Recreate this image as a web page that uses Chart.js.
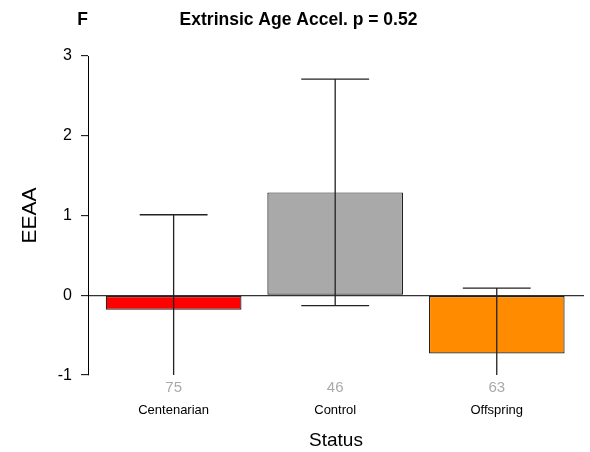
<!DOCTYPE html>
<html>
<head>
<meta charset="utf-8">
<script src="https://cdn.jsdelivr.net/npm/chart.js@4/dist/chart.umd.min.js"></script>
<style>
  body { margin: 0; background: #fff; }
</style>
</head>
<body>
<canvas id="chart" width="590" height="452"></canvas>
<script>
// data
const categories = ['Centenarian', 'Control', 'Offspring']
const counts = [75, 46, 63]
const eeaa = [-0.18, 1.29, -0.73]
const errors = [1.19, 1.42, 0.82]
const barColors = ['#ff0000', '#a9a9a9', '#ff8c00']
const yTicks = [-1, 0, 1, 2, 3]

const FONT = "'Liberation Sans', Arial, sans-serif"

// error bars drawn on top of the bars, clipped like R does
const errorBars = {
  id: 'errorBars',
  afterDatasetsDraw(chart) {
    const ctx = chart.ctx
    const yScale = chart.scales.y
    const area = chart.chartArea
    const meta = chart.getDatasetMeta(0)
    ctx.save()
    ctx.beginPath()
    ctx.rect(area.left, area.top, area.right - area.left, area.bottom - area.top)
    ctx.clip()
    ctx.strokeStyle = '#222'
    ctx.lineWidth = 1.3
    meta.data.forEach((bar, i) => {
      const hi = eeaa[i] + errors[i]
      const lo = eeaa[i] - errors[i]
      const yHi = yScale.getPixelForValue(hi)
      const yLo = yScale.getPixelForValue(lo)
      const half = bar.width / 4
      ctx.beginPath()
      ctx.moveTo(bar.x, yHi)
      ctx.lineTo(bar.x, yLo)
      if (hi <= yScale.max) {
        ctx.moveTo(bar.x - half, yHi)
        ctx.lineTo(bar.x + half, yHi)
      }
      if (lo >= yScale.min) {
        ctx.moveTo(bar.x - half, yLo)
        ctx.lineTo(bar.x + half, yLo)
      }
      ctx.stroke()
    })
    ctx.restore()
  }
}

// panel letter in the top left
const panelLetter = {
  id: 'panelLetter',
  afterDraw(chart) {
    const ctx = chart.ctx
    ctx.save()
    ctx.font = 'bold 17.5px ' + FONT
    ctx.fillStyle = '#000'
    ctx.textAlign = 'center'
    ctx.textBaseline = 'middle'
    ctx.fillText('F', 82.5, 20)
    ctx.restore()
  }
}

const xMin = -0.53
const xMax = 2.54

new Chart(document.getElementById('chart'), {
  type: 'bar',
  data: {
    datasets: [{
      data: eeaa.map((v, i) => ({ x: i, y: v })),
      backgroundColor: barColors,
      borderColor: '#222',
      borderWidth: 1.2,
      borderSkipped: false,
      barPercentage: 0.84,
      categoryPercentage: 1
    }]
  },
  options: {
    responsive: false,
    animation: false,
    layout: { padding: { left: 13, right: 6, top: 0, bottom: 0 } },
    plugins: {
      legend: { display: false },
      tooltip: { enabled: false },
      title: {
        display: true,
        text: 'Extrinsic Age Accel. p = 0.52',
        color: '#000',
        font: { family: FONT, size: 17.5, weight: 'bold' },
        padding: { top: 9.5, bottom: 25.5 }
      }
    },
    scales: {
      x: {
        type: 'linear',
        offset: false,
        min: xMin,
        max: xMax,
        weight: 0,
        grid: { display: false, drawTicks: false, offset: false },
        border: { display: false },
        ticks: {
          stepSize: 1,
          includeBounds: false,
          autoSkip: false,
          maxRotation: 0,
          padding: 4,
          color: '#aaaaaa',
          font: { family: FONT, size: 15 },
          callback: (v) => Number.isInteger(v) && counts[v] !== undefined ? String(counts[v]) : ''
        }
      },
      x2: {
        type: 'linear',
        position: 'bottom',
        offset: false,
        min: xMin,
        max: xMax,
        weight: 1,
        grid: { display: false, drawTicks: false, offset: false },
        border: { display: false },
        ticks: {
          stepSize: 1,
          includeBounds: false,
          autoSkip: false,
          maxRotation: 0,
          padding: 1.5,
          color: '#000',
          font: { family: FONT, size: 13 },
          callback: (v) => Number.isInteger(v) && categories[v] ? categories[v] : ''
        },
        title: {
          display: true,
          text: 'Status',
          color: '#000',
          font: { family: FONT, size: 19 },
          padding: { top: 9.5, bottom: 0 }
        }
      },
      y: {
        min: -1,
        max: 3,
        afterFit: (scale) => { scale.width = 75 },
        afterBuildTicks: (scale) => { scale.ticks = yTicks.map(v => ({ value: v })) },
        border: { display: true, color: '#000', width: 1 },
        grid: {
          drawTicks: true,
          tickLength: 7,
          tickColor: '#000',
          tickWidth: 1,
          lineWidth: 1.3,
          color: (c) => c.tick && c.tick.value === 0 ? '#333' : 'rgba(0,0,0,0)'
        },
        ticks: {
          padding: 9,
          color: '#000',
          font: { family: FONT, size: 16 }
        },
        title: {
          display: true,
          text: 'EEAA',
          color: '#000',
          font: { family: FONT, size: 21 },
          padding: { top: 5, bottom: 0 }
        }
      }
    }
  },
  plugins: [errorBars, panelLetter]
})
</script>
</body>
</html>
